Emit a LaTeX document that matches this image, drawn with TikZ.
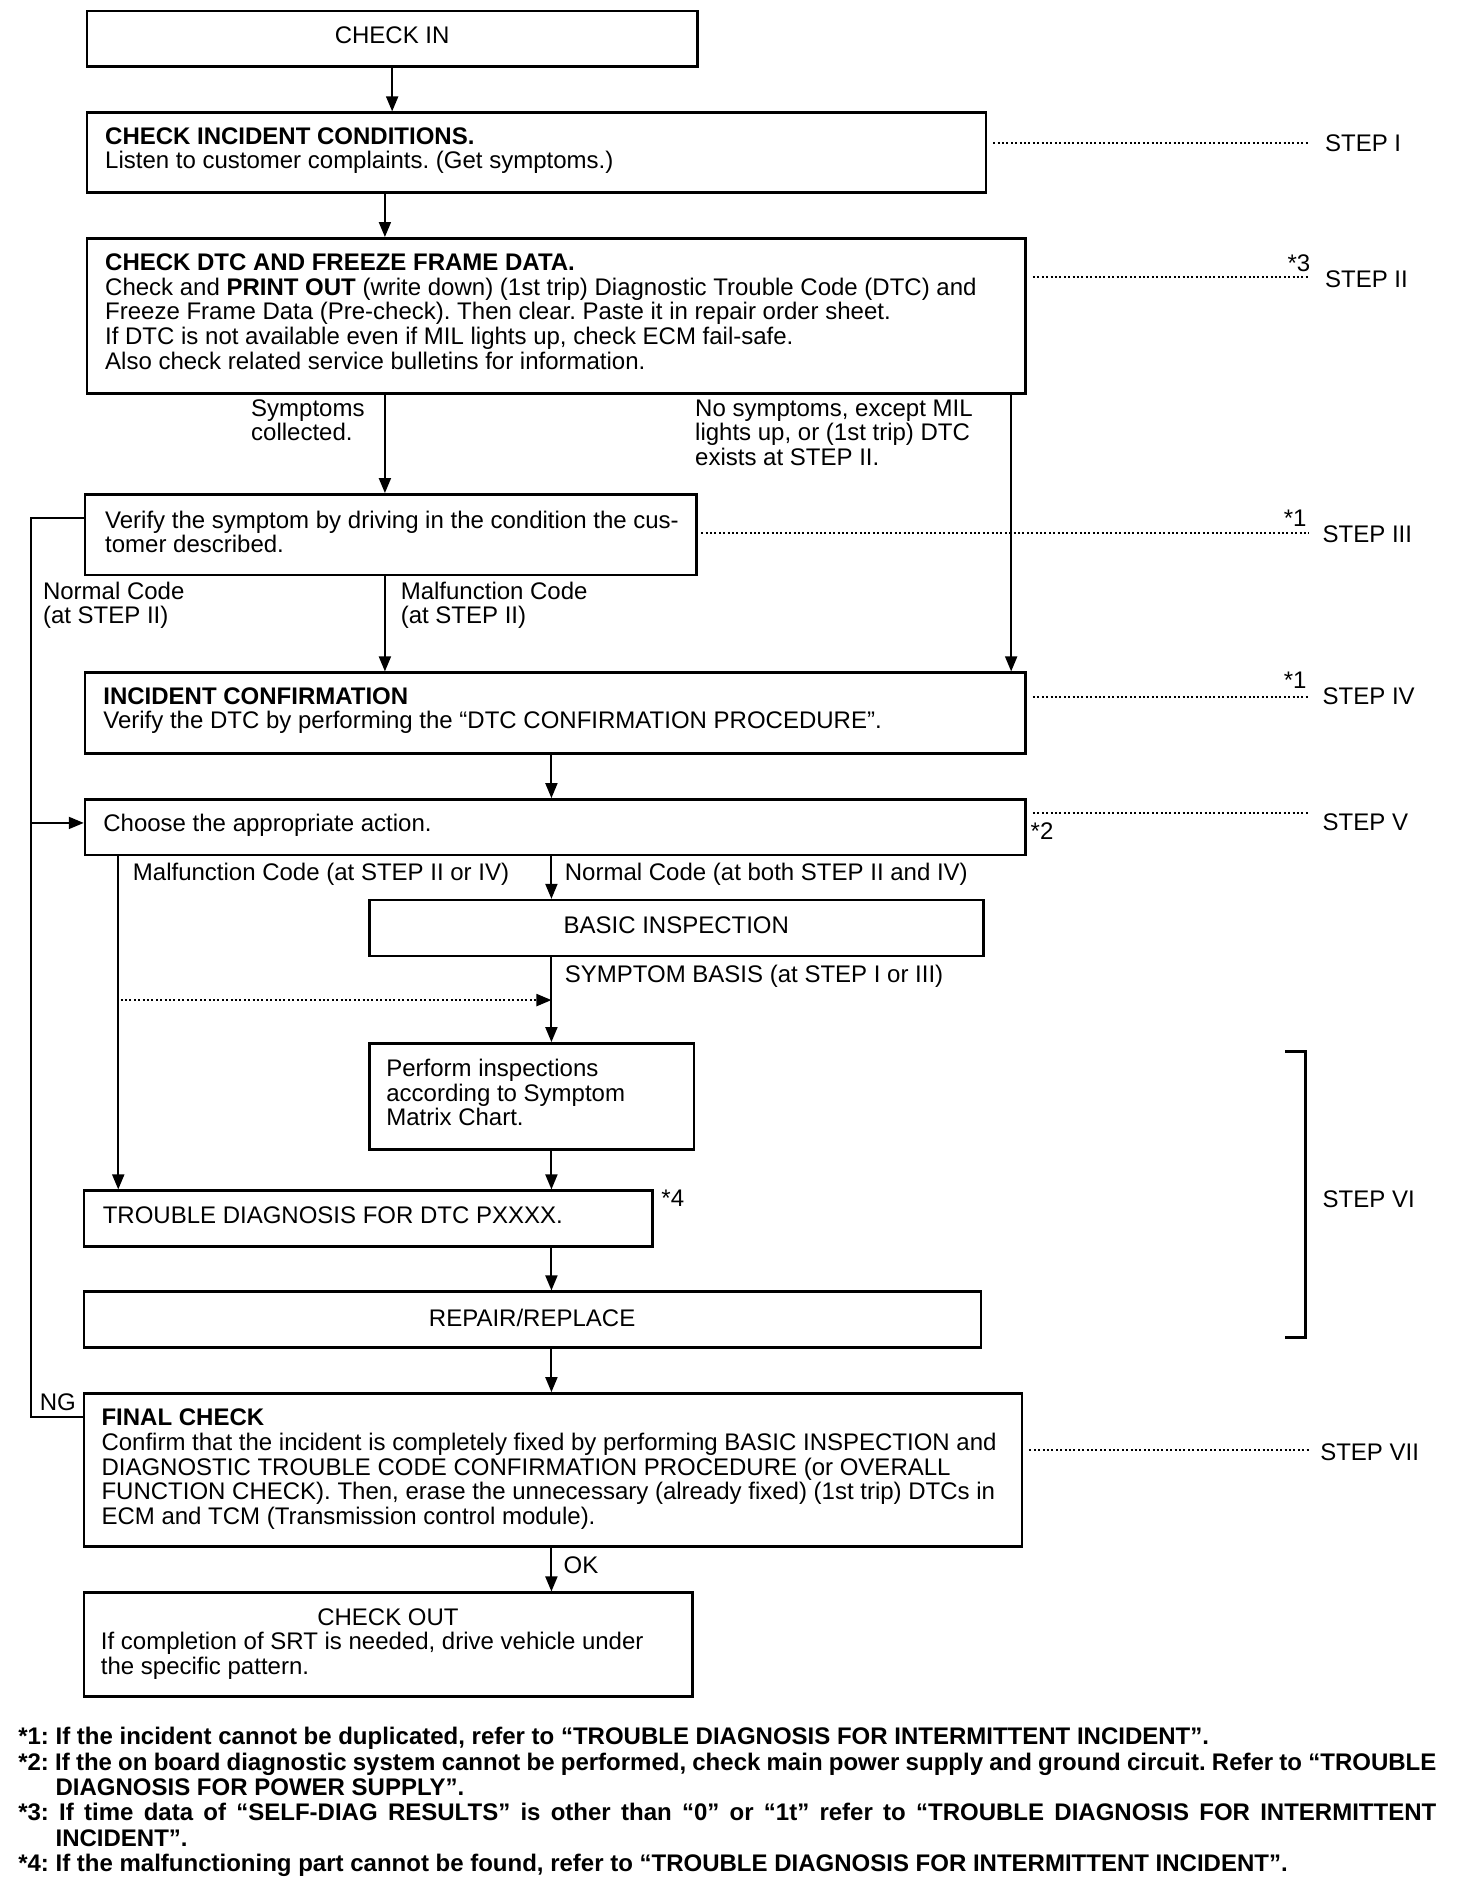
\documentclass[tikz,border=0pt]{standalone}
\usepackage{fontspec}
\setmainfont{Liberation Sans}
\usetikzlibrary{arrows.meta,fit}
\newcommand\lstrut{\rule{0pt}{18pt}}
\begin{document}
\frenchspacing
\begin{tikzpicture}[x=1.2066pt, y=-1.2066pt,
  box/.style={draw, line width=2.6pt, inner sep=0pt, fit={#1}},
  arr/.style={line width=1.9pt, -{Triangle[length=15pt,width=12pt]}},
  ln/.style={line width=1.9pt},
  dotl/.style={line width=2.2pt, dash pattern=on 2pt off 2.4pt},
  txt/.style={inner sep=0pt, font=\fontsize{24}{24.6}\selectfont\frenchspacing},
  mtxt/.style={txt, align=left, anchor=north west, execute at begin node=\lstrut},
  fn/.style={inner sep=0pt, font=\fontsize{24}{25.3}\selectfont\bfseries\frenchspacing, anchor=base west}]
\useasboundingbox (0,0) rectangle (1220,1568);
\fill[white] (0,0) rectangle (1220,1568);

% boxes
\node[box={(72,9.1) (578,55.3)}] (nCheckIn) {};
\node[box={(72,93.4) (817,159.7)}] (nI) {};
\node[box={(72,197.5) (850,326)}] (nII) {};
\node[box={(70.5,409.7) (577,476.5)}] (nIII) {};
\node[box={(70.5,557.5) (850,624.4)}] (nIV) {};
\node[box={(70.5,662.5) (850,708.6)}] (nV) {};
\node[box={(306,746) (815,792.3)}] (nBasic) {};
\node[box={(306,864.7) (575,952.5)}] (nPerform) {};
\node[box={(69.5,986.8) (541,1033.2)}] (nTrouble) {};
\node[box={(69.5,1070.5) (813,1116.6)}] (nRepair) {};
\node[box={(69.5,1154.8) (847,1281.8)}] (nFinal) {};
\node[box={(69.5,1320) (574,1406)}] (nOut) {};

% texts in boxes
\node[txt, anchor=base] (tCheckIn) at (325,35.8) {CHECK IN};
\node[mtxt] (tI) at (87,105.4) {\textbf{CHECK INCIDENT CONDITIONS.}\\Listen to customer complaints. (Get symptoms.)};
\node[mtxt] (tII) at (87,210.3) {\textbf{CHECK DTC AND FREEZE FRAME DATA.}\\Check and \textbf{PRINT OUT} (write down) (1st trip) Diagnostic Trouble Code (DTC) and\\Freeze Frame Data (Pre-check). Then clear. Paste it in repair order sheet.\\If DTC is not available even if MIL lights up, check ECM fail-safe.\\Also check related service bulletins for information.};
\node[mtxt] (tIII) at (87,423.1) {Verify the symptom by driving in the condition the cus-\\tomer described.};
\node[mtxt] (tIV) at (85.5,569.5) {\textbf{INCIDENT CONFIRMATION}\\Verify the DTC by performing the “DTC CONFIRMATION PROCEDURE”.};
\node[txt, anchor=base west] (tV) at (85.5,689.4) {Choose the appropriate action.};
\node[txt, anchor=base] (tBasic) at (560.5,774) {BASIC INSPECTION};
\node[mtxt] (tPerform) at (320,877.5) {Perform inspections\\according to Symptom\\Matrix Chart.};
\node[txt, anchor=base west] (tTrouble) at (85,1014) {TROUBLE DIAGNOSIS FOR DTC PXXXX.};
\node[txt, anchor=base] (tRepair) at (441,1099.6) {REPAIR/REPLACE};
\node[mtxt] (tFinal) at (84,1167.6) {\textbf{FINAL CHECK}\\Confirm that the incident is completely fixed by performing BASIC INSPECTION and\\DIAGNOSTIC TROUBLE CODE CONFIRMATION PROCEDURE (or OVERALL\\FUNCTION CHECK). Then, erase the unnecessary (already fixed) (1st trip) DTCs in\\ECM and TCM (Transmission control module).};
\node[txt, anchor=base] (tOutTitle) at (321.5,1346.8) {CHECK OUT};
\node[mtxt] (tOut) at (83.5,1352.7) {If completion of SRT is needed, drive vehicle under\\the specific pattern.};

% branch labels
\node[mtxt] (lSym) at (208,331) {Symptoms\\collected.};
\node[mtxt] (lNoSym) at (576,331) {No symptoms, except MIL\\lights up, or (1st trip) DTC\\exists at STEP II.};
\node[mtxt] (lNormal) at (35.5,482) {Normal Code\\(at STEP II)};
\node[mtxt] (lMalf) at (332,482) {Malfunction Code\\(at STEP II)};
\node[txt, anchor=base west] (lMalf2) at (110,729.4) {Malfunction Code (at STEP II or IV)};
\node[txt, anchor=base west] (lNormal2) at (468,729.4) {Normal Code (at both STEP II and IV)};
\node[txt, anchor=base west] (lSymB) at (468,814) {SYMPTOM BASIS (at STEP I or III)};
\node[txt, anchor=base] (lNG) at (48,1168.7) {NG};
\node[txt, anchor=base west] (lOK) at (467,1304) {OK};

% step labels
\node[txt, anchor=base west] (sI) at (1098,125.8) {STEP I};
\node[txt, anchor=base west] (sII) at (1098,238.5) {STEP II};
\node[txt, anchor=base west] (sIII) at (1096,449.5) {STEP III};
\node[txt, anchor=base west] (sIV) at (1096,584) {STEP IV};
\node[txt, anchor=base west] (sV) at (1096,688) {STEP V};
\node[txt, anchor=base west] (sVI) at (1096,1001) {STEP VI};
\node[txt, anchor=base west] (sVII) at (1094,1210) {STEP VII};
\node[txt, anchor=base east] (m3) at (1086,225) {*3};
\node[txt, anchor=base east] (m1a) at (1083,436.5) {*1};
\node[txt, anchor=base east] (m1b) at (1083,570.5) {*1};
\node[txt, anchor=base west] (m2) at (854,696) {*2};
\node[txt, anchor=base west] (m4) at (548,1000) {*4};

% x positions of the vertical connectors
\coordinate (xA) at (319,0);
\coordinate (xB) at (838,0);
\coordinate (xC) at (457,0);
\coordinate (xD) at (98,0);

% connectors
\draw[arr] (nCheckIn.south) -- (nCheckIn.south |- nI.north);
\draw[arr] (nI.south -| xA) -- (nII.north -| xA);
\draw[arr] (nII.south -| xA) -- (nIII.north -| xA);
\draw[arr] (nII.south -| xB) -- (nIV.north -| xB);
\draw[arr] (nIII.south -| xA) -- (nIV.north -| xA);
\draw[arr] (nIV.south -| xC) -- (nV.north -| xC);
\draw[arr] (nV.south -| xC) -- (nBasic.north -| xC);
\draw[arr] (nBasic.south -| xC) -- (nPerform.north -| xC);
\draw[arr] (nPerform.south -| xC) -- (nTrouble.north -| xC);
\draw[arr] (nTrouble.south -| xC) -- (nRepair.north -| xC);
\draw[arr] (nRepair.south -| xC) -- (nFinal.north -| xC);
\draw[arr] (nFinal.south -| xC) -- (nOut.north -| xC);
\draw[arr] (nV.south -| xD) -- (nTrouble.north -| xD);

% left loop (Normal code / NG)
\coordinate (lpTop) at (25.5,429.6);
\coordinate (lpMid) at (25.5,682);
\coordinate (lpBot) at (25.5,1174);
\draw[ln] (nIII.west |- lpTop) -- (lpTop) -- (lpBot) -- (nFinal.west |- lpBot);
\draw[arr] (lpMid) -- (nV.west |- lpMid);

% dotted arrow (symptom basis)
\coordinate (dS) at (100,828.8);
\draw[dotl, -{Triangle[length=15pt,width=12pt]}] (dS) -- (xC |- dS);

% dotted step leaders
\coordinate (eI) at (1085,118.8);
\coordinate (eII) at (1085,229.5);
\coordinate (eIII) at (1085,441.5);
\coordinate (eIV) at (1085,577.4);
\coordinate (eV) at (1085,673.5);
\coordinate (eVII) at (1085,1201.7);
\draw[dotl] (nI.east |- eI) ++(5,0) -- (eI);
\draw[dotl] (nII.east |- eII) ++(5,0) -- (eII);
\draw[dotl] (nIII.east |- eIII) ++(3,0) -- (eIII);
\draw[dotl] (nIV.east |- eIV) ++(5,0) -- (eIV);
\draw[dotl] (nV.east |- eV) ++(5,0) -- (eV);
\draw[dotl] (nFinal.east |- eVII) ++(5,0) -- (eVII);

% STEP VI bracket
\draw[line width=2.6pt] (1065,871.6) -- (1082,871.6) -- (1082,1108.3) -- (1065,1108.3);

% footnotes
\node[fn] (fn1) at (15,1446) {*1: If the incident cannot be duplicated, refer to “TROUBLE DIAGNOSIS FOR INTERMITTENT INCIDENT”.};
\node[fn] (fn2) at (15,1467) {\makebox[1418pt][s]{*2: If the on board diagnostic system cannot be performed, check main power supply and ground circuit. Refer to “TROUBLE}};
\node[fn] (fn2b) at (15,1488) {\hphantom{*2: }DIAGNOSIS FOR POWER SUPPLY”.};
\node[fn] (fn3) at (15,1509) {\makebox[1418pt][s]{*3: If time data of “SELF-DIAG RESULTS” is other than “0” or “1t” refer to “TROUBLE DIAGNOSIS FOR INTERMITTENT}};
\node[fn] (fn3b) at (15,1530) {\hphantom{*3: }INCIDENT”.};
\node[fn] (fn4) at (15,1551) {*4: If the malfunctioning part cannot be found, refer to “TROUBLE DIAGNOSIS FOR INTERMITTENT INCIDENT”.};
\end{tikzpicture}
\end{document}
